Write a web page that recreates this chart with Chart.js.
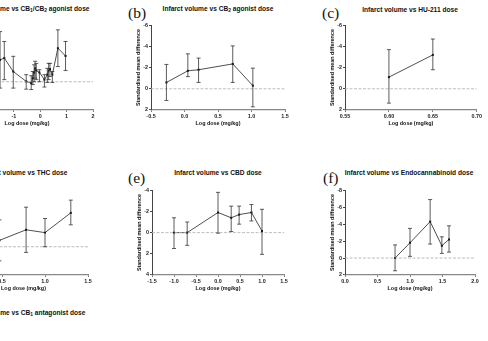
<!DOCTYPE html>
<html>
<head>
<meta charset="utf-8">
<script src="https://cdn.jsdelivr.net/npm/chart.js@4.4.1/dist/chart.umd.min.js"></script>
<style>
    html, body { margin: 0; padding: 0; background: #fff; }
    #wrap { position: relative; width: 488px; height: 341px; overflow: hidden; }
    canvas { position: absolute; }
    .ttl { position: absolute; font: bold 6.6px "Liberation Sans", Arial, sans-serif; white-space: nowrap; transform: translate(-50%, -50%); color: #111; }
    .ttl sub { font-size: 75%; vertical-align: -1px; line-height: 0; }
    .lbl { position: absolute; font: 15.5px "Liberation Serif", "Times New Roman", serif; white-space: nowrap; transform: translateY(-50%); color: #111; }
</style>
</head>
<body>
<div id="wrap">
    <div class="lbl" style="left:128px;top:13px">(b)</div>
    <div class="lbl" style="left:322px;top:13px">(c)</div>
    <div class="lbl" style="left:128px;top:178px">(e)</div>
    <div class="lbl" style="left:323px;top:178px">(f)</div>

    <div class="ttl" style="left:27px;top:8px">Infarct volume vs CB<sub>1</sub>/CB<sub>2</sub> agonist dose</div>
    <div class="ttl" style="left:218px;top:8px">Infarct volume vs CB<sub>2</sub> agonist dose</div>
    <div class="ttl" style="left:410px;top:9px">Infarct volume vs HU-211 dose</div>
    <div class="ttl" style="left:24px;top:172px">Infarct volume vs THC dose</div>
    <div class="ttl" style="left:218px;top:172px">Infarct volume vs CBD dose</div>
    <div class="ttl" style="left:409px;top:172px">Infarct volume vs Endocannabinoid dose</div>
    <div class="ttl" style="left:25px;top:312px">Infarct volume vs CB<sub>1</sub> antagonist dose</div>

    <canvas id="chartA"></canvas>
    <canvas id="chartB"></canvas>
    <canvas id="chartC"></canvas>
    <canvas id="chartD"></canvas>
    <canvas id="chartE"></canvas>
    <canvas id="chartF"></canvas>
</div>
<script>
// (a) CB1/CB2 agonist
const aDose = [-1.52, -1.36, -1.02, -0.53, -0.34, -0.28, -0.23, -0.19, -0.15, -0.03, 0.16, 0.27, 0.32, 0.37, 0.46, 0.67, 0.96];
const aSmd  = [-3.1, -3.35, -1.45, -0.05, 0.2, -0.5, -1.3, -1.9, -1.6, -1.3, -0.3, -1.0, -1.6, -1.8, -1.0, -4.75, -3.65];
const aLo   = [-7.1, -5.7, -3.6, -1.0, -0.85, -1.45, -2.4, -2.9, -2.6, -1.7, -1.0, -1.9, -2.6, -2.6, -1.45, -7.35, -5.7];
const aHi   = [0.9, -0.3, 0.9, 1.05, 1.1, 0.4, 0.0, -0.5, -0.3, 0.0, 0.75, 0.1, -0.3, -0.75, 0.1, -2.15, -1.6];

// (b) CB2 agonist
const bDose = [-0.27, 0.05, 0.21, 0.72, 1.02];
const bSmd  = [-0.6, -1.7, -1.8, -2.35, -0.3];
const bLo   = [-2.3, -3.3, -2.9, -4.05, -1.95];
const bHi   = [1.1, -1.15, -0.6, -0.6, 1.7];

// (c) HU-211
const cDose = [0.60, 0.65];
const cSmd  = [-1.1, -3.2];
const cLo   = [-3.7, -4.7];
const cHi   = [1.35, -1.8];

// (d) THC
const dDose = [0.47, 0.78, 1.0, 1.3];
const dSmd  = [-0.45, -1.2, -1.0, -2.4];
const dLo   = [-1.9, -2.8, -2.0, -3.3];
const dHi   = [1.0, 0.4, 0.0, -1.55];

// (e) CBD
const eDose = [-1.0, -0.7, 0.0, 0.3, 0.48, 0.76, 1.0];
const eSmd  = [0.0, 0.0, -1.9, -1.4, -1.7, -1.9, -0.15];
const eLo   = [-1.4, -1.0, -3.8, -2.5, -2.5, -2.65, -2.2];
const eHi   = [1.5, 1.2, 0.05, -0.1, -0.8, -1.1, 2.05];

// (f) Endocannabinoid
const fDose = [0.77, 1.0, 1.31, 1.49, 1.6];
const fSmd  = [0.0, -1.8, -4.3, -1.45, -2.2];
const fLo   = [-1.55, -3.5, -6.9, -2.5, -3.8];
const fHi   = [1.5, -0.2, -1.65, -0.55, -0.7];

// tick values
const aXTicks = [-3, -2, -1, 0, 1, 2];
const aYTicks = [-8, -6, -4, -2, 0, 2, 4];
const bXTicks = [-0.5, 0, 0.5, 1.0, 1.5];
const bYTicks = [-6, -4, -2, 0, 2];
const cXTicks = [0.55, 0.60, 0.65, 0.70];
const cYTicks = [-6, -4, -2, 0, 2];
const dXTicks = [0, 0.5, 1.0, 1.5];
const dYTicks = [-4, -2, 0, 2];
const eXTicks = [-1.5, -1.0, -0.5, 0, 0.5, 1.0, 1.5];
const eYTicks = [-4, -2, 0, 2, 4];
const fXTicks = [0, 0.5, 1.0, 1.5, 2.0];
const fYTicks = [-8, -6, -4, -2, 0, 2];

const Y_W = 16, X_H = 17, PAD_T = 4, PAD_R = 6;
const fontFam = '"Liberation Sans", Arial, sans-serif';

const errorBars = {
    id: 'errorBars',
    afterDatasetsDraw(chart) {
        const ctx = chart.ctx;
        const x = chart.scales.x, y = chart.scales.y;
        ctx.save();
        ctx.strokeStyle = '#333';
        ctx.lineWidth = 0.8;
        chart.data.datasets[1].data.forEach((p) => {
            const px = x.getPixelForValue(p.x);
            const top = y.getPixelForValue(p.lo);
            const bot = y.getPixelForValue(p.hi);
            ctx.beginPath();
            ctx.moveTo(px, top); ctx.lineTo(px, bot);
            ctx.moveTo(px - 2, top); ctx.lineTo(px + 2, top);
            ctx.moveTo(px - 2, bot); ctx.lineTo(px + 2, bot);
            ctx.stroke();
        });
        ctx.restore();
    }
};

const makePanel = (id, box, dose, smd, lo, hi, xTicks, yTicks, digits) => {
    const canvas = document.getElementById(id);
    const w = Y_W + (box.r - box.l) + PAD_R;
    const h = PAD_T + (box.b - box.t) + X_H;
    canvas.width = w; canvas.height = h;
    canvas.style.width = w + 'px'; canvas.style.height = h + 'px';
    canvas.style.left = (box.l - Y_W) + 'px';
    canvas.style.top = (box.t - PAD_T) + 'px';

    const xMin = xTicks[0], xMax = xTicks[xTicks.length - 1];
    const tickFont = { family: fontFam, size: 5.4, weight: 'bold' };

    new Chart(canvas, {
        type: 'scatter',
        data: {
            datasets: [{
                data: [{ x: xMin, y: 0 }, { x: xMax, y: 0 }],
                showLine: true,
                borderColor: '#b5b5b5',
                borderWidth: 0.9,
                borderDash: [3, 1.5],
                pointRadius: 0
            }, {
                data: dose.map((v, i) => ({ x: v, y: smd[i], lo: lo[i], hi: hi[i] })),
                showLine: true,
                borderColor: '#222',
                borderWidth: 0.8,
                pointStyle: 'rect',
                pointRadius: 1.4,
                pointBackgroundColor: '#000',
                pointBorderColor: '#000',
                pointBorderWidth: 0,
                clip: false
            }]
        },
        options: {
            responsive: false,
            animation: false,
            devicePixelRatio: 1,
            layout: { padding: { top: PAD_T, right: PAD_R, left: 0, bottom: 0 } },
            plugins: { legend: { display: false }, tooltip: { enabled: false } },
            scales: {
                x: {
                    type: 'linear',
                    min: xMin, max: xMax,
                    afterBuildTicks: (s) => { s.ticks = xTicks.map(v => ({ value: v })); },
                    afterFit: (s) => { s.height = X_H; },
                    grid: { drawOnChartArea: false, tickLength: 2, color: '#777' },
                    border: { color: '#888', width: 1.3 },
                    ticks: {
                        autoSkip: false, maxRotation: 0, padding: 1, color: '#222', font: tickFont,
                        callback: (v) => digits ? Number(v).toFixed(digits) : String(v)
                    },
                    title: { display: true, text: 'Log dose (mg/kg)', padding: 0, color: '#111', font: tickFont }
                },
                y: {
                    type: 'linear',
                    reverse: true,
                    min: yTicks[0], max: yTicks[yTicks.length - 1],
                    afterBuildTicks: (s) => { s.ticks = yTicks.map(v => ({ value: v })); },
                    afterFit: (s) => { s.width = Y_W; },
                    grid: { drawOnChartArea: false, tickLength: 2, color: '#444' },
                    border: { color: '#444', width: 1 },
                    ticks: { autoSkip: false, padding: 1, color: '#222', font: tickFont },
                    title: { display: true, text: 'Standardised mean difference', padding: 0, color: '#111', font: tickFont }
                }
            }
        },
        plugins: [errorBars]
    });
};

makePanel('chartA', { l: -39, r: 93, t: 25, b: 110 }, aDose, aSmd, aLo, aHi, aXTicks, aYTicks, 0);
makePanel('chartB', { l: 151, r: 285, t: 25, b: 110 }, bDose, bSmd, bLo, bHi, bXTicks, bYTicks, 1);
makePanel('chartC', { l: 345, r: 477, t: 25, b: 110 }, cDose, cSmd, cLo, cHi, cXTicks, cYTicks, 2);
makePanel('chartD', { l: -41, r: 88, t: 190, b: 275 }, dDose, dSmd, dLo, dHi, dXTicks, dYTicks, 1);
makePanel('chartE', { l: 152, r: 284, t: 190, b: 275 }, eDose, eSmd, eLo, eHi, eXTicks, eYTicks, 1);
makePanel('chartF', { l: 345, r: 475, t: 190, b: 275 }, fDose, fSmd, fLo, fHi, fXTicks, fYTicks, 1);
</script>
</body>
</html>
